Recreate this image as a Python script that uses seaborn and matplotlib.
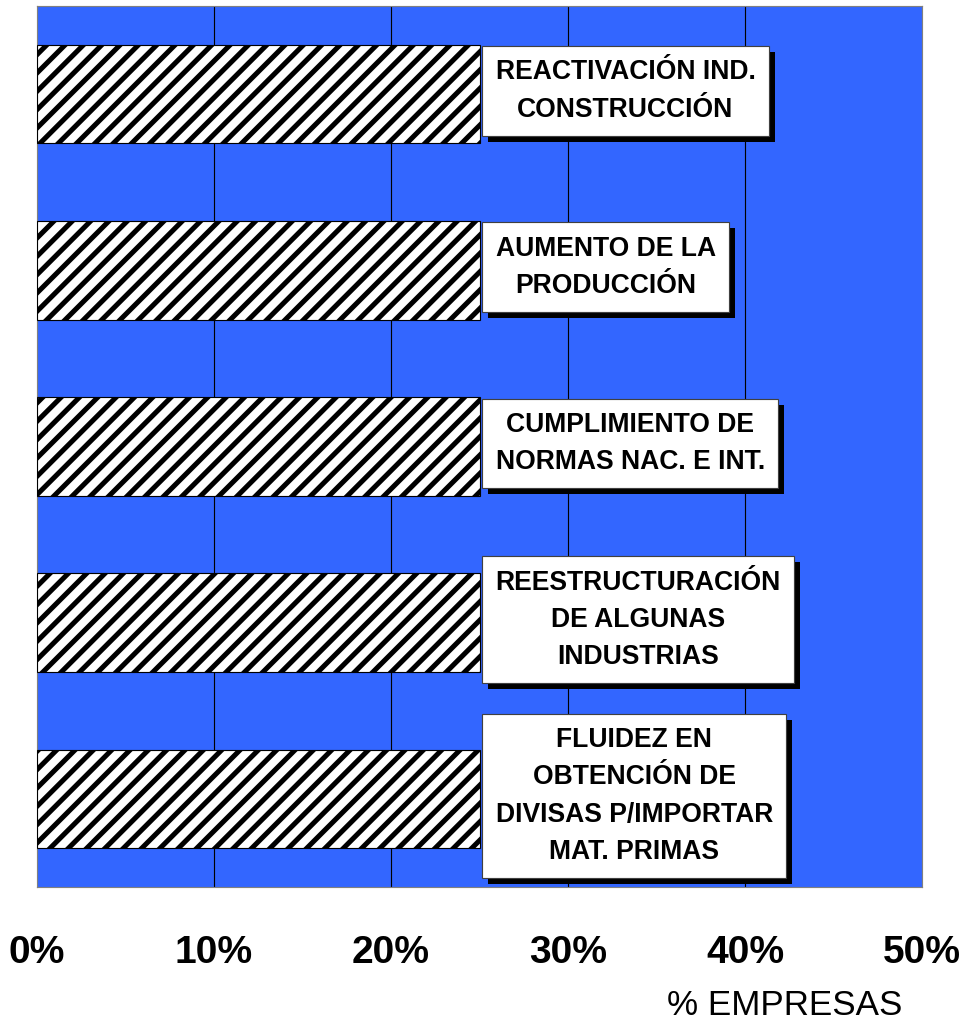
import matplotlib
matplotlib.use("Agg")
import matplotlib.pyplot as plt
import matplotlib.patheffects as pe
import seaborn as sns
import pandas as pd

categories = [
    "REACTIVACIÓN IND.\nCONSTRUCCIÓN",
    "AUMENTO DE LA\nPRODUCCIÓN",
    "CUMPLIMIENTO DE\nNORMAS NAC. E INT.",
    "REESTRUCTURACIÓN\nDE ALGUNAS\nINDUSTRIAS",
    "FLUIDEZ EN\nOBTENCIÓN DE\nDIVISAS P/IMPORTAR\nMAT. PRIMAS",
]
values = [25, 25, 25, 25, 25]
xticks = [0, 10, 20, 30, 40, 50]
xtick_labels = ["0%", "10%", "20%", "30%", "40%", "50%"]
xlabel = "% EMPRESAS"

sns.set_theme(style="white")
plt.rcParams["font.family"] = ["Liberation Sans", "DejaVu Sans"]
plt.rcParams["text.color"] = "black"
plt.rcParams["xtick.color"] = "black"
plt.rcParams["hatch.linewidth"] = 3.3
plt.rcParams["hatch.color"] = "black"

DPI = 110
PX = 72 / DPI  # points per pixel

fig = plt.figure(figsize=(965 / DPI, 1022 / DPI), dpi=DPI)
fig.patch.set_facecolor("white")
ax = fig.add_axes([37 / 965, 1 - 887 / 1022, (922 - 37) / 965, (887 - 6) / 1022])
ax.set_facecolor("#3366FF")

df = pd.DataFrame({"cat": categories, "val": values})
sns.barplot(data=df, x="val", y="cat", order=categories, orient="h",
            color="white", saturation=1, width=0.56, edgecolor="black",
            linewidth=0.75, hatch="//", ax=ax, zorder=3)

ax.set_xlim(0, 50)
ax.set_ylim(len(categories) - 0.5, -0.5)
ax.set_xticks(xticks)
ax.set_xticklabels(xtick_labels, fontsize=39 * PX, fontweight="bold", color="black")
ax.tick_params(axis="x", direction="out", length=15 * PX, width=0.75,
               color="#808080", pad=33 * PX, labelcolor="black")
ax.set_yticks([])
ax.set_xlabel("")
ax.set_ylabel("")
ax.grid(False)
for x in xticks[1:-1]:
    ax.axvline(x, color="black", lw=0.75, zorder=1)
for s in ax.spines.values():
    s.set_color("#808080")
    s.set_linewidth(0.75)

fs_box = 26.5 * PX
for i, (c, v) in enumerate(zip(categories, values)):
    t = ax.annotate(c, xy=(v, i), xytext=(16 * PX, 3 * PX), textcoords="offset points",
                    ha="left", va="center", multialignment="center",
                    fontsize=fs_box, fontweight="bold", color="black", linespacing=1.56,
                    zorder=5,
                    bbox=dict(boxstyle="square,pad=0.5", facecolor="white",
                              edgecolor="#404040", linewidth=0.75))
    t.get_bbox_patch().set_path_effects([
        pe.SimplePatchShadow(offset=(6 * PX, -6 * PX), shadow_rgbFace="black", alpha=1.0),
        pe.Normal(),
    ])

fig.text(785 / 965, 1 - 1015 / 1022, xlabel, ha="center", va="baseline",
         fontsize=35 * PX, color="black")

fig.savefig("out.png", dpi=DPI, facecolor="white")
